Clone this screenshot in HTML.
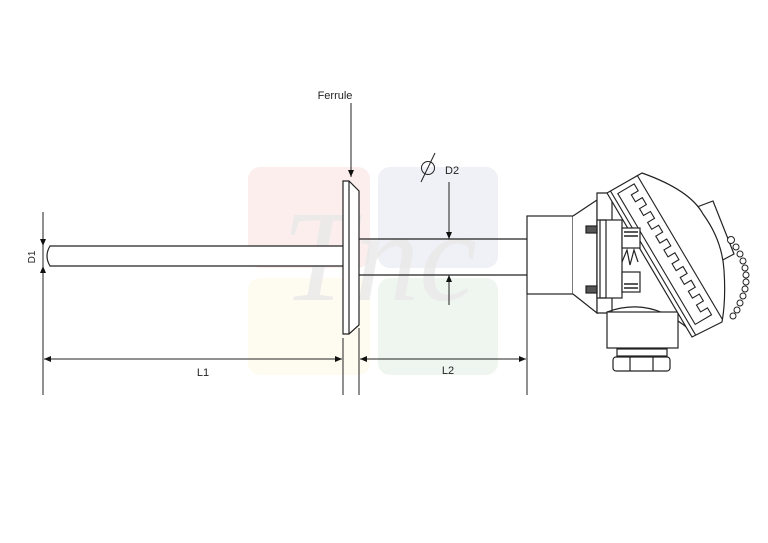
<!DOCTYPE html>
<html><head><meta charset="utf-8"><style>
html,body{margin:0;padding:0;background:#fff;}
svg{display:block;}
text{font-family:"Liberation Sans",Arial,sans-serif;fill:#222;}
</style></head><body>
<svg width="768" height="543" viewBox="0 0 768 543" xmlns="http://www.w3.org/2000/svg">
<defs>
<marker id="ah" markerWidth="8" markerHeight="8" refX="7" refY="4" orient="auto" markerUnits="userSpaceOnUse">
<path d="M0,1 L7,4 L0,7 Z" fill="#111"/></marker>
</defs>
<!-- watermark -->
<rect x="248" y="167" width="122" height="101" rx="12" fill="#fdeeee"/>
<rect x="378" y="167" width="120" height="101" rx="12" fill="#f0f0f7"/>
<rect x="248" y="278" width="122" height="97" rx="12" fill="#fefcf0"/>
<rect x="378" y="278" width="120" height="97" rx="12" fill="#eff6f0"/>
<text x="282" y="300" font-size="130" style="font-family:'Liberation Serif',serif;font-style:italic;fill:#e9e9e9;opacity:0.8">Tnc</text>

<g stroke="#222" stroke-width="1.2" fill="none">
<!-- left tube -->
<path d="M344,246 L50,246 Q44,256 50,266 L344,266" fill="#fff"/>
<!-- ferrule -->
<path d="M343,181 L349,181 L359,191 L359,325 L349,334 L343,334 Z" fill="#fff"/>
<line x1="349" y1="181" x2="349" y2="334"/>
<!-- right tube -->
<path d="M359,239 L527,239 M359,275 L527,275"/>
<!-- head box -->
<rect x="527" y="216" width="46" height="78" fill="#fff"/>
<path d="M573,216 L597,200 L597,313 L573,294" fill="#fff"/>
<path d="M597,193 L612,193 L612,313 L597,313 Z" fill="#fff"/>
<!-- body bottom / neck -->
<path d="M607,312 Q650,296 690,330"/>
<rect x="607" y="312" width="71" height="36" fill="#fff"/>
<rect x="617" y="349" width="50" height="7" fill="#fff"/>
<rect x="613" y="357" width="57" height="14" rx="3" fill="#fff"/>
<path d="M630,357 L630,371 M653,357 L653,371"/>
<!-- cover -->
<path d="M697,207 L713,201 L734,254 L719,262" fill="#fff"/>
<path d="M607,193 L642,173 Q690,190 703,214 Q722,240 724,270 Q726,300 722,322 L692,337 Z" fill="#fff"/>
</g>
<!-- teeth band -->
<g transform="translate(607,193) rotate(59.4)" stroke="#222" stroke-width="1.1" fill="none">
<path d="M0,-4 L167,-4"/>
<path d="M0,-35 L167,-35"/>
<path d="M6,-9 L6,-28 L14,-28 L14,-20 L22,-20 L22,-28 L30,-28 L30,-20 L38,-20 L38,-28 L46,-28 L46,-20 L54,-20 L54,-28 L62,-28 L62,-20 L70,-20 L70,-28 L78,-28 L78,-20 L86,-20 L86,-28 L94,-28 L94,-20 L102,-20 L102,-28 L110,-28 L110,-20 L118,-20 L118,-28 L126,-28 L126,-20 L134,-20 L134,-28 L142,-28 L142,-20 L150,-20 L150,-28 L158,-28 L158,-9 Z"/>
</g>
<!-- terminal block -->
<g stroke="#222" stroke-width="1.2" fill="none">
<rect x="597" y="220" width="25" height="78" fill="#fff"/>
<rect x="600" y="220" width="6" height="78"/>
<rect x="586" y="226" width="11" height="7" fill="#555"/>
<rect x="586" y="286" width="11" height="7" fill="#555"/>
<rect x="622" y="228" width="18" height="20" fill="#fff"/>
<rect x="622" y="272" width="18" height="20" fill="#fff"/>
<path d="M622,262 L627,250 L630,265 L634,250 L638,262" />
<path d="M624,232 L638,232 M624,236 L638,236 M624,284 L638,284 M624,288 L638,288" stroke-width="1.6"/>
</g>
<!-- chain -->
<g stroke="#222" stroke-width="1" fill="#fff">
<circle cx="731" cy="240" r="3.5"/><circle cx="736" cy="247" r="3"/><circle cx="740" cy="254" r="3"/>
<circle cx="743" cy="261" r="3"/><circle cx="745" cy="268" r="3"/><circle cx="746" cy="275" r="3"/>
<circle cx="746" cy="282" r="3"/><circle cx="745" cy="289" r="3"/><circle cx="743" cy="296" r="3"/>
<circle cx="740" cy="303" r="3"/><circle cx="737" cy="310" r="3"/><circle cx="733" cy="316" r="3"/>
</g>

<!-- dimensions -->
<g stroke="#222" stroke-width="1" fill="none">
<line x1="351" y1="103" x2="351" y2="177" marker-end="url(#ah)"/>
<line x1="43" y1="212" x2="43" y2="395"/>
<line x1="43" y1="226" x2="43" y2="246" marker-end="url(#ah)"/>
<line x1="43" y1="286" x2="43" y2="266" marker-end="url(#ah)"/>
<line x1="449" y1="182" x2="449" y2="239" marker-end="url(#ah)"/>
<line x1="449" y1="305" x2="449" y2="275" marker-end="url(#ah)"/>
<line x1="343" y1="338" x2="343" y2="395"/>
<line x1="359" y1="328" x2="359" y2="395"/>
<line x1="527" y1="294" x2="527" y2="395"/>
<line x1="100" y1="359" x2="44" y2="359" marker-end="url(#ah)"/>
<line x1="100" y1="359" x2="342" y2="359" marker-end="url(#ah)"/>
<line x1="420" y1="359" x2="360" y2="359" marker-end="url(#ah)"/>
<line x1="420" y1="359" x2="526" y2="359" marker-end="url(#ah)"/>
<circle cx="428" cy="168" r="6.5"/>
<line x1="421" y1="182" x2="435" y2="153"/>
</g>
<text x="335" y="99" font-size="11" text-anchor="middle">Ferrule</text>
<text x="445" y="174" font-size="11">D2</text>
<text x="203" y="376" font-size="11" text-anchor="middle">L1</text>
<text x="448" y="374" font-size="11" text-anchor="middle">L2</text>
<text transform="translate(35,257) rotate(-90)" font-size="10" text-anchor="middle">D1</text>
</svg>
</body></html>
